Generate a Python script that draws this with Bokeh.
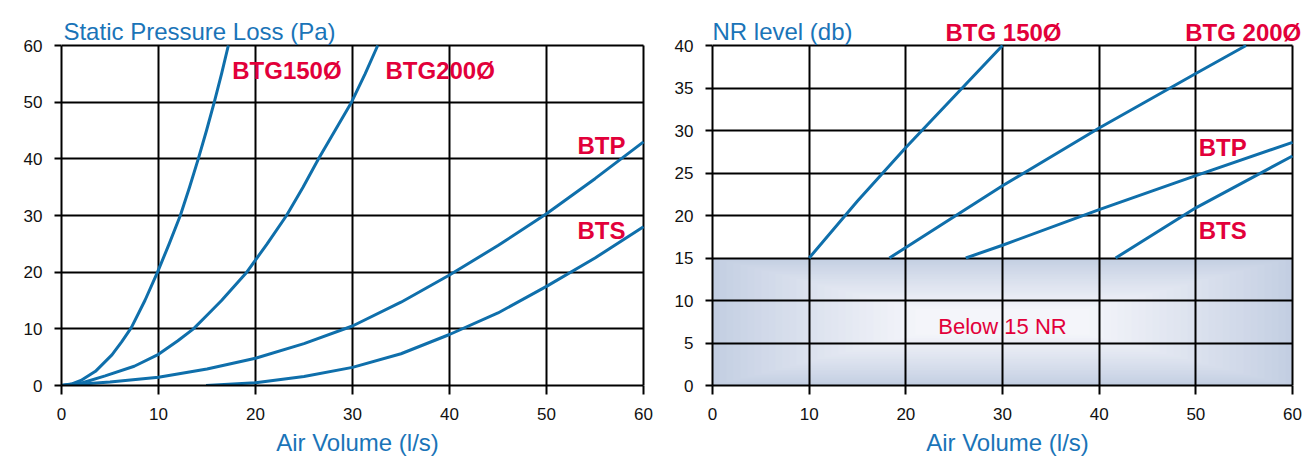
from bokeh.plotting import figure
from bokeh.layouts import row
from bokeh.models import Label, Range1d, FixedTicker
from bokeh.embed import file_html
from bokeh.resources import INLINE

# ---------------- data ----------------
x_ticks = [0, 10, 20, 30, 40, 50, 60]
pl_y_ticks = [0, 10, 20, 30, 40, 50, 60]
nr_y_ticks = [0, 5, 10, 15, 20, 25, 30, 35, 40]
nr_threshold = 15

# Static pressure loss (Pa) vs air volume (l/s)
pl_btg150_x = [0, 1, 2, 3.5, 5.2, 6.2, 7.2, 8.6, 9.9, 11.1, 12.25, 13.2, 14.1, 14.95, 15.75, 16.5, 17.2]
pl_btg150_y = [0, 0.25, 0.9, 2.5, 5.4, 7.7, 10.2, 15, 20, 25, 30, 35, 40, 45, 50, 55, 60]
pl_btg200_x = [0, 2, 4.5, 7.5, 10, 12, 13.6, 15, 16.5, 19.1, 21.2, 23.2, 24.9, 26.5, 28.2, 29.9, 31.3, 32.6]
pl_btg200_y = [0, 0.4, 1.7, 3.4, 5.5, 7.9, 10, 12.4, 15, 20, 25, 30, 35, 40, 45, 50, 55, 60]
pl_btp_x = [0, 5, 10, 15, 20, 25, 30, 35, 40, 45, 50, 55, 60]
pl_btp_y = [0, 0.6, 1.45, 2.9, 4.8, 7.4, 10.5, 14.7, 19.5, 24.7, 30.3, 36.5, 43]
pl_bts_x = [14.9, 20, 25, 30, 35, 40, 45, 50, 55, 60]
pl_bts_y = [0, 0.5, 1.6, 3.2, 5.6, 9, 12.8, 17.5, 22.5, 28]

# NR level (db) vs air volume (l/s)
nr_btg150_x = [10, 15, 20, 25, 30]
nr_btg150_y = [15, 21.7, 28, 34, 40]
nr_btg200_x = [18.3, 30, 40, 50, 55.2]
nr_btg200_y = [15, 23.5, 30.3, 36.7, 40]
nr_btp_x = [26.2, 30, 40, 50, 60]
nr_btp_y = [15, 16.5, 20.7, 24.7, 28.6]
nr_bts_x = [41.7, 50, 60]
nr_bts_y = [15, 20.9, 27]

# ---------------- styles / geometry ----------------
FONT = "Liberation Sans"
TITLE_BLUE = "#1a74b8"
LINE_BLUE = "#0f6fab"
RED = "#e2003a"
FIG_H = 461
TOP = 5          # px above the frame
DATA_H = 340     # px used by the data area
PAD_TOP = 40     # px of frame above the top gridline (room for headings)
BOTTOM = FIG_H - TOP - DATA_H - PAD_TOP


def make_fig(ymax, yticks, width, border_left, border_right, data_w):
    frame_w = width - border_left - border_right
    x_end = x_ticks[-1] * frame_w / data_w
    y_end = ymax * (DATA_H + PAD_TOP) / DATA_H
    p = figure(width=width, height=FIG_H,
               x_range=Range1d(0, x_end), y_range=Range1d(0, y_end),
               output_backend="svg", toolbar_location=None,
               min_border_left=border_left, min_border_right=border_right,
               min_border_top=TOP, min_border_bottom=BOTTOM)
    p.background_fill_color = "white"
    p.border_fill_color = "white"
    p.outline_line_color = None
    p.xaxis.ticker = FixedTicker(ticks=x_ticks)
    p.yaxis.ticker = FixedTicker(ticks=yticks)
    p.xgrid.ticker = FixedTicker(ticks=x_ticks)
    p.ygrid.ticker = FixedTicker(ticks=yticks)
    p.xgrid.cross_bounds = (0, ymax)
    p.ygrid.cross_bounds = (x_ticks[0], x_ticks[-1])
    p.xaxis.bounds = (x_ticks[0], x_ticks[-1])
    p.yaxis.bounds = (0, ymax)
    for g in (p.xgrid, p.ygrid):
        g.grid_line_color = "black"
        g.grid_line_width = 2
        g.grid_line_alpha = 1.0
    for ax in (p.xaxis, p.yaxis):
        ax.axis_line_color = "black"
        ax.axis_line_width = 2
        ax.major_tick_line_color = "black"
        ax.major_tick_line_width = 2
        ax.major_tick_in = 0
        ax.minor_tick_line_color = None
        ax.major_label_text_font = FONT
        ax.major_label_text_font_size = "17px"
        ax.major_label_text_color = "#111111"
    p.xaxis.major_tick_out = 9
    p.xaxis.major_label_standoff = 13
    p.yaxis.major_tick_out = 7
    p.yaxis.major_label_standoff = 12
    p.xaxis.axis_label = "Air Volume (l/s)"
    p.xaxis.axis_label_text_font = FONT
    p.xaxis.axis_label_text_font_size = "24px"
    p.xaxis.axis_label_text_font_style = "normal"
    p.xaxis.axis_label_text_color = TITLE_BLUE
    p.xaxis.axis_label_standoff = 6
    return p


def add_label(p, x, y, text, bold=True, size="24px", align="left",
              color=RED, baseline="middle"):
    p.add_layout(Label(x=x, y=y, text=text, text_font=FONT,
                       text_font_size=size,
                       text_font_style="bold" if bold else "normal",
                       text_color=color, text_align=align,
                       text_baseline=baseline))


# ---------------- left chart ----------------
p1 = make_fig(60, pl_y_ticks, 660, 61, 7, 582)
for xs, ys in ((pl_btg150_x, pl_btg150_y), (pl_btg200_x, pl_btg200_y),
               (pl_btp_x, pl_btp_y), (pl_bts_x, pl_bts_y)):
    p1.line(xs, ys, line_width=3, line_color=LINE_BLUE, line_join="round")
add_label(p1, 0.2, 62.5, "Static Pressure Loss (Pa)", bold=False,
          color=TITLE_BLUE, baseline="alphabetic")
add_label(p1, 17.6, 55.6, "BTG150Ø")
add_label(p1, 33.4, 55.6, "BTG200Ø")
add_label(p1, 53.2, 42.4, "BTP")
add_label(p1, 53.2, 27.4, "BTS")

# ---------------- right chart ----------------
p2 = make_fig(40, nr_y_ticks, 644, 52, 2, 580)

# gradient shading of the "below threshold" band
edge = (0xc3, 0xce, 0xe2)
center = (0xf4, 0xf5, 0xfa)
N = 30
lefts, rights, bottoms, tops, colors = [], [], [], [], []
x_lo, x_hi = x_ticks[0], x_ticks[-1]
for i in range(N):
    t = i / (N - 1)
    lefts.append(x_lo + t * 21)
    rights.append(x_hi - t * 21)
    bottoms.append(t * nr_threshold * 0.4)
    tops.append(nr_threshold - t * nr_threshold * 0.4)
    f = t ** 0.9
    c = tuple(int(round(edge[k] + (center[k] - edge[k]) * f)) for k in range(3))
    colors.append("#%02x%02x%02x" % c)
r = p2.quad(left=lefts, right=rights, bottom=bottoms, top=tops,
            fill_color=colors, line_color=None)
r.level = "image"

for xs, ys in ((nr_btg150_x, nr_btg150_y), (nr_btg200_x, nr_btg200_y),
               (nr_btp_x, nr_btp_y), (nr_bts_x, nr_bts_y)):
    p2.line(xs, ys, line_width=3, line_color=LINE_BLUE, line_join="round")
add_label(p2, 0.0, 41.65, "NR level (db)", bold=False,
          color=TITLE_BLUE, baseline="alphabetic")
add_label(p2, 24.1, 41.5, "BTG 150Ø")
add_label(p2, 48.9, 41.5, "BTG 200Ø")
add_label(p2, 50.3, 28.0, "BTP")
add_label(p2, 50.3, 18.2, "BTS")
add_label(p2, 30.0, 7.0, "Below 15 NR", bold=False, size="22px", align="center")

layout = row(p1, p2)
open("out.html", "w").write(file_html(layout, INLINE))
